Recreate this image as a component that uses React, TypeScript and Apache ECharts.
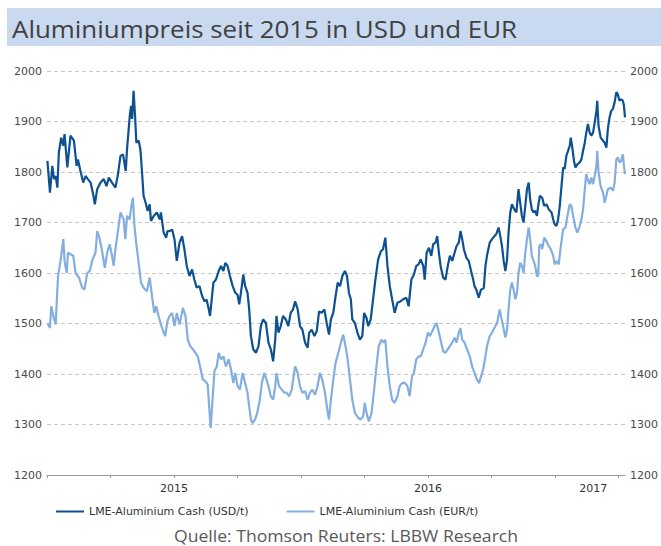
import React, { useEffect, useRef } from "react";
import * as echarts from "echarts";

// Months since 1 Jan 2015 and LME aluminium cash prices (USD/t)
const usdMonths = [
  0.02, 0.14, 0.25, 0.33, 0.41, 0.49, 0.56, 0.67, 0.77, 0.83, 0.96, 1.11, 1.27, 1.4, 1.46, 1.58, 1.71, 1.82, 1.93, 2.06,
  2.18, 2.26, 2.37, 2.53, 2.68, 2.81, 2.92, 3.07, 3.23, 3.34, 3.47, 3.59, 3.72, 3.78, 3.91, 3.97, 4.02, 4.09, 4.16, 4.22,
  4.33, 4.41, 4.49, 4.56, 4.66, 4.75, 4.85, 4.91, 5.04, 5.19, 5.32, 5.38, 5.51, 5.63, 5.69,
  5.79, 5.91, 6.02, 6.13, 6.26, 6.38, 6.49, 6.6, 6.73, 6.85, 6.96, 7.07, 7.2, 7.33, 7.44, 7.54, 7.64, 7.7, 7.77, 7.86,
  7.98, 8.11, 8.22, 8.33, 8.42, 8.53, 8.64, 8.77, 8.89, 9.0, 9.08, 9.16, 9.27, 9.36, 9.47, 9.55, 9.63, 9.74, 9.87, 9.99,
  10.1, 10.21, 10.34, 10.46, 10.57, 10.68, 10.78, 10.84, 10.93, 11.04, 11.15, 11.28, 11.4, 11.51, 11.62,
  11.72, 11.84, 11.95, 12.06, 12.19, 12.31, 12.38, 12.5, 12.63, 12.74, 12.85, 12.97, 13.1, 13.21, 13.32, 13.41, 13.52,
  13.63, 13.73, 13.84, 13.95, 14.07, 14.17, 14.26, 14.35, 14.42, 14.54, 14.67, 14.78, 14.89, 14.98, 15.09, 15.17, 15.29,
  15.4, 15.51, 15.64, 15.77, 15.87, 15.98, 16.08, 16.19, 16.3, 16.42, 16.55, 16.71, 16.82, 16.97, 17.08, 17.21, 17.33,
  17.44, 17.55,
  17.65, 17.77, 17.84, 17.93, 18.04, 18.15, 18.24, 18.35, 18.43, 18.51, 18.59, 18.71, 18.82, 18.93, 19.03, 19.14, 19.25,
  19.34, 19.45, 19.53, 19.61, 19.69, 19.81, 19.92, 20.03, 20.13, 20.19, 20.28, 20.39, 20.5, 20.63, 20.71, 20.78, 20.91,
  21.02, 21.13, 21.22, 21.33, 21.41, 21.49, 21.57, 21.65, 21.73, 21.8, 21.88, 21.96, 22.07, 22.17, 22.27, 22.35, 22.43,
  22.51, 22.59, 22.67, 22.75, 22.82, 22.9, 22.98, 23.06, 23.14,
  23.2, 23.28, 23.39, 23.48, 23.59, 23.7, 23.83, 23.91, 23.98, 24.06, 24.14, 24.22, 24.3, 24.38, 24.45, 24.53, 24.61,
  24.69, 24.74, 24.8, 24.89, 24.96, 25.05, 25.16, 25.24, 25.32, 25.4, 25.47, 25.55, 25.63, 25.71, 25.79, 25.87, 25.95,
  25.99, 26.05, 26.15, 26.26, 26.34, 26.42, 26.49, 26.57, 26.65, 26.73, 26.81, 26.89, 26.96, 27.04, 27.12, 27.2, 27.25,
  27.3,
];
const usdValues = [
  1822, 1759, 1812, 1786, 1792, 1769, 1839, 1868, 1852, 1875, 1809, 1872, 1862, 1812, 1825, 1802, 1779, 1792, 1786, 1779,
  1756, 1736, 1766, 1779, 1786, 1772, 1789, 1779, 1769, 1792, 1832, 1835, 1802, 1845, 1911, 1931, 1905, 1961, 1911, 1858,
  1862, 1845, 1799, 1753, 1739, 1723, 1736, 1703, 1713, 1720, 1706, 1720, 1680, 1670, 1683,
  1683, 1686, 1667, 1624, 1660, 1673, 1647, 1614, 1594, 1607, 1587, 1571, 1574, 1554, 1544, 1547, 1528, 1515, 1544, 1581,
  1587, 1604, 1614, 1604, 1620, 1614, 1594, 1574, 1561, 1557, 1538, 1561, 1597, 1574, 1561, 1528, 1475, 1449, 1442, 1455,
  1495, 1508, 1501, 1462, 1449, 1425, 1468, 1515, 1482, 1495, 1515, 1508, 1495, 1521, 1528,
  1544, 1528, 1495, 1488, 1462, 1452, 1481, 1488, 1475, 1485, 1524, 1521, 1528, 1501, 1478, 1508, 1521,
  1554, 1581, 1574, 1594, 1604, 1594, 1561, 1548, 1508, 1501, 1481, 1468, 1475, 1521, 1511, 1495, 1508,
  1548, 1587, 1627, 1643, 1647, 1670, 1614, 1574, 1548, 1521, 1541, 1544, 1548, 1551, 1534, 1587, 1597,
  1614, 1617,
  1627, 1614, 1587, 1640, 1650, 1634, 1657, 1660, 1673, 1640, 1614, 1591, 1587, 1614, 1634, 1624, 1640,
  1653, 1660, 1683, 1667, 1647, 1630, 1624, 1604, 1587, 1574, 1567, 1551, 1567, 1570, 1614, 1634, 1660,
  1667, 1673, 1677, 1690, 1673, 1653, 1624, 1604, 1627, 1680, 1720, 1736, 1726, 1720, 1766, 1739, 1713,
  1700, 1733, 1766, 1779, 1746, 1726, 1720, 1723, 1713,
  1733, 1753, 1749, 1733, 1736, 1726, 1720, 1706, 1696, 1693, 1706, 1733, 1772, 1809, 1806, 1832, 1842,
  1852, 1868, 1852, 1822, 1809, 1815, 1819, 1825, 1842, 1858, 1878, 1895, 1878, 1872, 1878, 1898, 1921,
  1941, 1891, 1868, 1862, 1858, 1848, 1885, 1908, 1921, 1925, 1938, 1958, 1954, 1941, 1944, 1941, 1931,
  1908,
];

// Months since 1 Jan 2015 and LME aluminium cash prices (EUR/t)
const eurMonths = [
  0.02, 0.09, 0.14, 0.2, 0.3, 0.41, 0.52, 0.64, 0.77, 0.83, 0.93, 0.99, 1.11, 1.24, 1.35, 1.51, 1.66, 1.77, 1.9, 2.02,
  2.13, 2.29, 2.37, 2.49, 2.6, 2.73, 2.84, 2.96, 3.07, 3.15, 3.23, 3.34, 3.47, 3.62, 3.7, 3.78, 3.91, 3.97, 4.06, 4.13,
  4.22, 4.33, 4.44, 4.56, 4.72, 4.85, 4.96, 5.07, 5.16, 5.27, 5.38, 5.51, 5.58, 5.69,
  5.79, 5.91, 6.02, 6.13, 6.26, 6.42, 6.54, 6.65, 6.76, 6.89, 7.01, 7.12, 7.23, 7.36, 7.48, 7.59, 7.67, 7.73, 7.83, 7.91,
  8.02, 8.11, 8.22, 8.33, 8.45, 8.58, 8.69, 8.8, 8.89, 9.0, 9.11, 9.24, 9.36, 9.47, 9.55, 9.63, 9.71, 9.83, 9.93, 10.05,
  10.15, 10.26, 10.37, 10.46, 10.57, 10.68, 10.78, 10.84, 10.96, 11.09, 11.2, 11.31, 11.44, 11.56, 11.67,
  11.72, 11.84, 11.95, 12.06, 12.19, 12.31, 12.42, 12.53, 12.66, 12.78, 12.89, 13.0, 13.13, 13.26, 13.32, 13.41, 13.52,
  13.63, 13.76, 13.88, 13.99, 14.1, 14.2, 14.31, 14.42, 14.54, 14.7, 14.82, 14.93, 15.01, 15.09, 15.2, 15.33, 15.45,
  15.56, 15.67, 15.8, 15.92, 15.98, 16.08, 16.19, 16.3, 16.42, 16.55, 16.66, 16.77, 16.89, 17.02, 17.13, 17.24, 17.33,
  17.44, 17.55,
  17.65, 17.77, 17.88, 17.99, 18.09, 18.2, 18.31, 18.4, 18.51, 18.62, 18.71, 18.82, 18.93, 19.03, 19.14, 19.25, 19.34,
  19.45, 19.53, 19.61, 19.72, 19.84, 19.97, 20.08, 20.19, 20.31, 20.41, 20.5, 20.6, 20.71, 20.78, 20.91, 21.02, 21.13,
  21.26, 21.38, 21.44, 21.54, 21.65, 21.73, 21.8, 21.88, 21.96, 22.04, 22.12, 22.2, 22.27, 22.35, 22.43, 22.51, 22.59,
  22.67, 22.75, 22.82, 22.9, 22.98, 23.06, 23.14,
  23.2, 23.25, 23.33, 23.39, 23.48, 23.59, 23.7, 23.8, 23.91, 23.98, 24.06, 24.17, 24.27, 24.38, 24.49, 24.58, 24.69,
  24.77, 24.85, 24.96, 25.05, 25.16, 25.24, 25.32, 25.4, 25.47, 25.55, 25.63, 25.71, 25.79, 25.87, 25.95, 25.99, 26.05,
  26.15, 26.26, 26.34, 26.42, 26.49, 26.62, 26.73, 26.81, 26.89, 26.96, 27.04, 27.12, 27.2, 27.25, 27.3,
];
const eurValues = [
  1501, 1495, 1491, 1534, 1515, 1498, 1594, 1624, 1667, 1624, 1600, 1640, 1637, 1634, 1600, 1591, 1571, 1567, 1600, 1604,
  1624, 1640, 1683, 1667, 1644, 1610, 1640, 1657, 1634, 1614, 1647, 1680, 1720, 1706, 1667, 1713, 1706, 1729, 1749, 1693,
  1657, 1620, 1581, 1571, 1564, 1591, 1554, 1521, 1534, 1515, 1498, 1482, 1475, 1505,
  1515, 1521, 1495, 1521, 1498, 1531, 1515, 1468, 1455, 1449, 1442, 1435, 1415, 1389, 1386, 1379, 1329, 1293, 1356, 1406,
  1415, 1442, 1429, 1435, 1415, 1429, 1409, 1382, 1402, 1376, 1369, 1402, 1382, 1363, 1336, 1310, 1303, 1310, 1323, 1349,
  1382, 1402, 1389, 1376, 1356, 1349, 1376, 1402, 1376, 1369, 1363, 1363, 1356, 1369, 1402,
  1415, 1402, 1376, 1363, 1366, 1349, 1363, 1369, 1359, 1376, 1402, 1389, 1363, 1323, 1310, 1349, 1389,
  1422, 1442, 1462, 1478, 1455, 1429, 1389, 1349, 1323, 1313, 1310, 1316, 1343, 1323, 1306, 1323, 1369,
  1415, 1455, 1468, 1462, 1468, 1415, 1376, 1349, 1343, 1356, 1376, 1382, 1383, 1376, 1356, 1396, 1402,
  1429, 1435,
  1435, 1449, 1462, 1482, 1475, 1485, 1495, 1501, 1482, 1462, 1445, 1442, 1449, 1455, 1462, 1472, 1462,
  1482, 1491, 1468, 1462, 1449, 1435, 1415, 1402, 1389, 1382, 1395, 1409, 1435, 1455, 1475, 1482, 1491,
  1501, 1528, 1515, 1495, 1472, 1488, 1528, 1567, 1581, 1567, 1548, 1561, 1600, 1620, 1614, 1600, 1640,
  1667, 1690, 1667, 1634, 1624, 1614, 1594,
  1594, 1653, 1657, 1647, 1670, 1663, 1653, 1647, 1634, 1617, 1624, 1617, 1653, 1687, 1690, 1713, 1736,
  1733, 1713, 1690, 1680, 1693, 1706, 1726, 1766, 1796, 1783, 1776, 1789, 1776, 1792, 1812, 1842, 1799,
  1772, 1759, 1739, 1753, 1766, 1769, 1763, 1779, 1825, 1829, 1819, 1822, 1835, 1812, 1796,
];

const quarterTicks = [0, 3, 6, 9, 12, 15, 18, 21, 24, 27];
const yearLabelPositions = [6, 18, 25.8];
const startYear = 2015;

const titleText = "Aluminiumpreis seit 2015 in USD und EUR";
const sourceText = "Quelle: Thomson Reuters: LBBW Research";
const usdName = "LME-Aluminium Cash (USD/t)";
const eurName = "LME-Aluminium Cash (EUR/t)";

const zip = (xs: number[], ys: number[]) => xs.map((x, i) => [x, ys[i]]);

export default function App() {
  const ref = useRef<HTMLDivElement>(null);
  useEffect(() => {
    if (!ref.current) return;
    document.body.style.margin = "0";
    const chart = echarts.init(ref.current, null, { renderer: "svg" });
    const axisFont = { fontFamily: "DejaVu Sans", fontSize: 11, color: "#4a4a4a" };
    const plain = (v: number) => String(v);
    chart.setOption({
      animation: false,
      backgroundColor: "#ffffff",
      graphic: [
        {
          type: "rect",
          shape: { x: 7, y: 8, width: 654, height: 38 },
          style: { fill: "#c9d9f0" },
          silent: true,
        },
        {
          type: "text",
          x: 12,
          y: 28,
          scaleX: 1.08,
          style: {
            text: titleText,
            fontFamily: "Open Sans",
            fontSize: 24,
            fill: "#404040",
            textVerticalAlign: "middle",
          },
        },
        {
          type: "text",
          x: 346,
          y: 536,
          scaleX: 1.1,
          style: {
            text: sourceText,
            fontFamily: "Open Sans",
            fontSize: 16,
            fill: "#595959",
            textAlign: "center",
            textVerticalAlign: "middle",
          },
        },
      ],
      grid: { left: 47, right: 34, top: 71, bottom: 71, containLabel: false },
      legend: {
        left: 51,
        top: 501,
        itemWidth: 28,
        itemHeight: 2,
        itemGap: 38,
        icon: "rect",
        textStyle: { fontFamily: "DejaVu Sans", fontSize: 11, color: "#333333" },
        data: [usdName, eurName],
      },
      xAxis: {
        type: "value",
        min: 0,
        max: 27.3,
        axisLine: { show: true, lineStyle: { color: "#9a9a9a", width: 1 } },
        axisTick: { show: true, customValues: quarterTicks, length: 3, lineStyle: { color: "#9a9a9a" } },
        axisLabel: {
          ...axisFont,
          color: "#333333",
          margin: 8,
          customValues: yearLabelPositions,
          formatter: (v: number) => String(startYear + Math.floor(v / 12)),
        },
        splitLine: { show: false },
      },
      yAxis: [
        {
          type: "value",
          min: 1200,
          max: 2000,
          interval: 100,
          position: "left",
          axisLine: { show: false },
          axisTick: { show: false },
          axisLabel: { ...axisFont, margin: 5, formatter: plain },
          splitLine: { show: true, lineStyle: { color: "#c8c8c8", type: [4, 3], width: 1 } },
        },
        {
          type: "value",
          min: 1200,
          max: 2000,
          interval: 100,
          position: "right",
          axisLine: { show: false },
          axisTick: { show: false },
          axisLabel: { ...axisFont, margin: 5, formatter: plain },
          splitLine: { show: false },
        },
      ],
      series: [
        {
          name: usdName,
          type: "line",
          data: zip(usdMonths, usdValues),
          showSymbol: false,
          symbol: "none",
          lineStyle: { color: "#0d5190", width: 2.2 },
          itemStyle: { color: "#0d5190" },
          yAxisIndex: 0,
        },
        {
          name: eurName,
          type: "line",
          data: zip(eurMonths, eurValues),
          showSymbol: false,
          symbol: "none",
          lineStyle: { color: "#85aee0", width: 2.2 },
          itemStyle: { color: "#85aee0" },
          yAxisIndex: 0,
        },
      ],
    });
    return () => chart.dispose();
  }, []);
  return <div ref={ref} style={{ width: 661, height: 546 }} />;
}
